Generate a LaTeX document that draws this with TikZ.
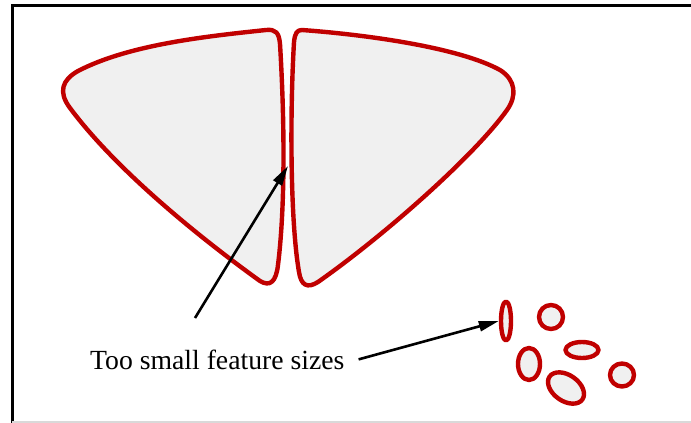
\documentclass[tikz,border=0pt]{standalone}
\usepackage{fontspec}
\setmainfont{Liberation Serif}
\usetikzlibrary{arrows.meta,shapes.geometric}
\definecolor{maskred}{RGB}{192,0,0}
\definecolor{maskfill}{RGB}{240,240,240}

\begin{document}
\begin{tikzpicture}[x=1pt, y=-1pt, >={Triangle[length=20pt, width=10pt]},
	feature/.style={draw=maskred, fill=maskfill, line width=4.4pt, line join=round},
	blob/.style={feature, ellipse, inner sep=0pt},
	pointer/.style={->, line width=2.6pt}]
	\useasboundingbox (0,0) rectangle (691,423);
	% frame, cut off on the right
	\draw[line width=2.6pt] (700,5.5) -- (12.3,5.5) -- (12.3,430);
	\draw[black!15, line width=1.5pt] (12.3,422) -- (700,422);
	% the two large features, nearly touching
	\draw[feature] (266,30) .. controls (276,29) and (279,33) .. (280,44)
		.. controls (284,110) and (286,200) .. (278,265)
		.. controls (276,282) and (270,287) .. (260,281)
		.. controls (210,245) and (120,175) .. (70,108)
		.. controls (58,92) and (62,80) .. (78,71)
		.. controls (130,44) and (210,36) .. (266,30) -- cycle;
	\draw[feature] (302,30) .. controls (370,35) and (460,48) .. (500,70)
		.. controls (516,80) and (517,96) .. (507,110)
		.. controls (475,155) and (385,235) .. (318,282)
		.. controls (307,289) and (301,285) .. (299,272)
		.. controls (290,220) and (290,110) .. (294,42)
		.. controls (295,33) and (297,30) .. (302,30) -- cycle;
	% small features
	\node[blob, minimum width=10pt, minimum height=39pt] (b1) at (506,321) {};
	\node[blob, minimum width=24pt, minimum height=24pt] (b2) at (551,317) {};
	\node[blob, minimum width=33pt, minimum height=16pt] (b3) at (582,350) {};
	\node[blob, minimum width=22pt, minimum height=32pt] (b4) at (529,364) {};
	\node[blob, minimum width=40pt, minimum height=26pt, rotate=-35] (b5) at (566,388) {};
	\node[blob, minimum width=24pt, minimum height=23pt] (b6) at (622,375) {};
	% label and arrows
	\node[anchor=base west, inner sep=0pt, font=\fontsize{27.7}{33}\selectfont] (caption) at (90,369) {Too small feature sizes};
	\coordinate (tailA) at (195,318);
	\coordinate (gap) at (288,166);
	\draw[pointer] (tailA) -- (gap);
	\draw[pointer] ([xshift=14pt]caption.east) -- (b1.west);
\end{tikzpicture}
\end{document}
